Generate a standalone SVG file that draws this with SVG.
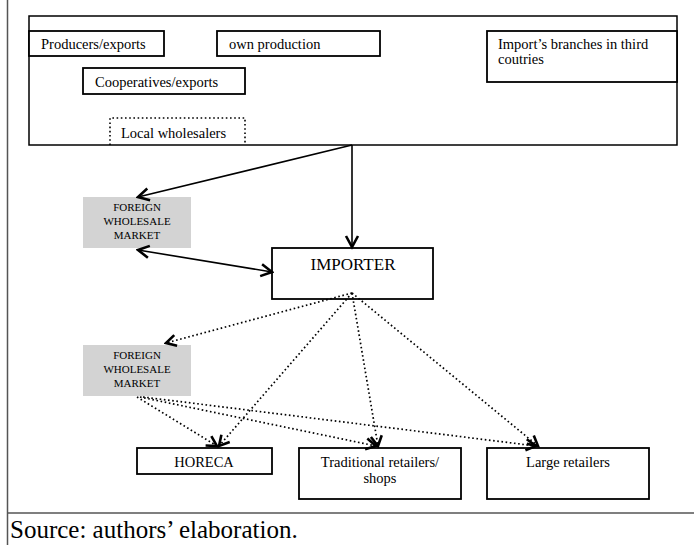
<svg xmlns="http://www.w3.org/2000/svg" width="694" height="545" viewBox="0 0 694 545">
<defs>
<style>
.box{fill:#fff;stroke:#000;stroke-width:1.8}
.big{fill:#fff;stroke:#000;stroke-width:1.5}
.grey{fill:#d3d3d3;stroke:none}
.dotbox{fill:none;stroke:#000;stroke-width:1.6;stroke-dasharray:1.6 2.6}
.t{font-family:"Liberation Serif","Times New Roman",serif;font-size:14.5px;fill:#000}
.c{text-anchor:middle}
.fw{font-family:"Liberation Serif","Times New Roman",serif;font-size:11px;fill:#000;text-anchor:middle}
.solid{fill:none;stroke:#000;stroke-width:1.6}
.dot{fill:none;stroke:#000;stroke-width:1.7;stroke-dasharray:1.6 2.6}
.frame{stroke:#555;stroke-width:1.5;fill:none}
</style>
<marker id="ah" markerUnits="userSpaceOnUse" markerWidth="16" markerHeight="16" viewBox="-13 -8 15 16" refX="0" refY="0" orient="auto-start-reverse">
<path d="M-11,-6 L0,0 L-11,6" fill="none" stroke="#000" stroke-width="2.6" stroke-linejoin="miter"/>
</marker>
<marker id="ahd" markerUnits="userSpaceOnUse" markerWidth="16" markerHeight="16" viewBox="-13 -8 15 16" refX="0" refY="0" orient="auto">
<path d="M-10,-5.5 L0,0 L-10,5.5" fill="none" stroke="#000" stroke-width="2.6" stroke-linejoin="miter"/>
</marker>
</defs>
<rect width="694" height="545" fill="#fff"/>
<g id="frame">
<line class="frame" x1="7.5" y1="0" x2="7.5" y2="545"/>
<line class="frame" x1="7" y1="513" x2="694" y2="513"/>
</g>
<g id="sources">
<rect class="big" x="29" y="16" width="648" height="129"/>
</g>
<g id="producers">
<rect class="box" x="29" y="31" width="135" height="25"/>
<text class="t" x="41" y="49">Producers/exports</text>
</g>
<g id="own-production">
<rect class="box" x="217" y="31" width="163" height="25"/>
<text class="t" x="229" y="49">own production</text>
</g>
<g id="cooperatives">
<rect class="box" x="83" y="68" width="162" height="26"/>
<text class="t" x="95" y="87">Cooperatives/exports</text>
</g>
<g id="local-wholesalers">
<path class="dotbox" d="M110,145 L110,118 L245,118 L245,145"/>
<text class="t" x="121" y="138">Local wholesalers</text>
</g>
<g id="branches">
<rect class="box" x="487" y="31" width="190" height="51"/>
<text class="t" x="498" y="49">Import’s branches in third</text>
<text class="t" x="498" y="64">coutries</text>
</g>
<g id="foreign1">
<rect class="grey" x="83" y="197" width="108" height="51"/>
<text class="fw" x="137" y="211">FOREIGN</text>
<text class="fw" x="137" y="225">WHOLESALE</text>
<text class="fw" x="137" y="239">MARKET</text>
</g>
<g id="importer">
<rect class="box" x="272" y="248" width="161" height="51"/>
<text class="t c" x="353" y="270" style="font-size:17px">IMPORTER</text>
</g>
<g id="foreign2">
<rect class="grey" x="83" y="345" width="108" height="51"/>
<text class="fw" x="137" y="359">FOREIGN</text>
<text class="fw" x="137" y="373">WHOLESALE</text>
<text class="fw" x="137" y="387">MARKET</text>
</g>
<g id="horeca">
<rect class="box" x="137" y="448" width="135" height="26"/>
<text class="t c" x="204" y="467">HORECA</text>
</g>
<g id="traditional">
<rect class="box" x="299" y="448" width="162" height="51"/>
<text class="t c" x="380" y="467">Traditional retailers/</text>
<text class="t c" x="380" y="483">shops</text>
</g>
<g id="large">
<rect class="box" x="487" y="448" width="162" height="51"/>
<text class="t c" x="568" y="467">Large retailers</text>
</g>
<g id="connectors">
<line class="solid" x1="352" y1="145" x2="138" y2="197" marker-end="url(#ah)"/>
<line class="solid" x1="352" y1="145" x2="352" y2="247" marker-end="url(#ah)"/>
<line class="solid" x1="138" y1="250" x2="272" y2="272" marker-start="url(#ah)" marker-end="url(#ah)"/>
<line class="dot" x1="352" y1="293" x2="166" y2="343" marker-end="url(#ahd)"/>
<line class="dot" x1="352" y1="293" x2="219" y2="446" marker-end="url(#ahd)"/>
<line class="dot" x1="352" y1="293" x2="378" y2="446" marker-end="url(#ahd)"/>
<line class="dot" x1="352" y1="293" x2="538" y2="446" marker-end="url(#ahd)"/>
<line class="dot" x1="137" y1="397" x2="217" y2="446" marker-end="url(#ahd)"/>
<line class="dot" x1="140" y1="397" x2="376" y2="446" marker-end="url(#ahd)"/>
<line class="dot" x1="143" y1="397" x2="536" y2="446" marker-end="url(#ahd)"/>
</g>
<text x="10" y="538" style="font-family:'Liberation Serif','Times New Roman',serif;font-size:25px;fill:#000">Source: authors’ elaboration.</text>
</svg>
